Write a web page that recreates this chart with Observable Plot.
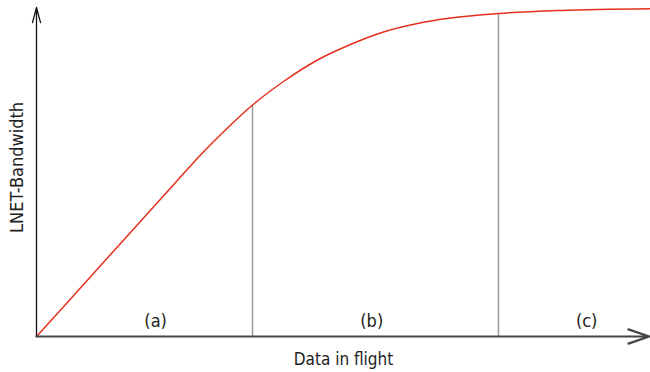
<!DOCTYPE html>
<html>
<head>
<meta charset="utf-8">
<script src="https://cdn.jsdelivr.net/npm/d3@7"></script>
<script src="https://cdn.jsdelivr.net/npm/@observablehq/plot@0.6"></script>
<style>
  html, body { margin: 0; padding: 0; background: #fff; }
  #chart svg { display: block; }
</style>
</head>
<body>
<div id="chart"></div>
<script>
// Curve: LNET bandwidth vs. data in flight (arbitrary units, 0–100)
const curveX = [0, 5.54, 11.40, 17.10, 22.80, 26.71, 30.94, 35.18, 40.23, 45.77, 51.14, 56.51, 62.05, 67.43, 75.24, 85.34, 100];
const curveY = [0, 11.43, 23.56, 35.32, 47.11, 55.17, 63.07, 70.36, 77.51, 84.04, 88.75, 92.55, 95.14, 96.81, 98.18, 99.09, 99.60];

// Region boundaries and the curve height there
const boundaryX = [35.18, 75.24];
const boundaryTop = [70.36, 98.18];

// Region labels
const regionLabels = ["(a)", "(b)", "(c)"];
const regionLabelX = [19.4, 54.6, 89.6];

const xTitle = "Data in flight";
const yTitle = "LNET-Bandwidth";

const curve = curveX.map((x, i) => ({x, y: curveY[i]}));
const bounds = boundaryX.map((x, i) => ({x, top: boundaryTop[i]}));
const labels = regionLabels.map((t, i) => ({t, x: regionLabelX[i]}));

const font = "'DejaVu Sans Condensed', 'DejaVu Sans', sans-serif";

const chart = Plot.plot({
  width: 650,
  height: 372,
  marginLeft: 36,
  marginRight: 0,
  marginTop: 7,
  marginBottom: 36,
  style: {fontFamily: font, background: "#fff"},
  x: {domain: [0, 100], axis: null},
  y: {domain: [0, 100], axis: null},
  marks: [
    Plot.ruleX(bounds, {x: "x", y1: 0, y2: "top", stroke: "#999", strokeWidth: 1.5}),
    Plot.line(curve, {x: "x", y: "y", curve: "monotone-x", stroke: "#e3301f", strokeWidth: 1.5}),
    // y axis with open arrowhead
    Plot.arrow([{}], {x1: 0, y1: 0, x2: 0, y2: 100, stroke: "#111", strokeWidth: 1.3, headAngle: 30, headLength: 18, insetEnd: 0}),
    // x axis with open arrowhead
    Plot.arrow([{}], {x1: 0, y1: 0, x2: 99.8, y2: 0, stroke: "#444", strokeWidth: 2.2, headAngle: 38, headLength: 15, insetEnd: 0}),
    Plot.text(labels, {x: "x", y: 4.6, text: "t", fontSize: 18, fill: "#222"}),
    Plot.text([xTitle], {frameAnchor: "bottom", dy: 28, text: d => d, fontSize: 17, fill: "#222"}),
    Plot.text([yTitle], {x: 0, y: 51.4, dx: -19.5, rotate: -90, textAnchor: "middle", text: d => d, fontSize: 18, fill: "#222"})
  ]
});
document.getElementById("chart").appendChild(chart);
</script>
</body>
</html>
